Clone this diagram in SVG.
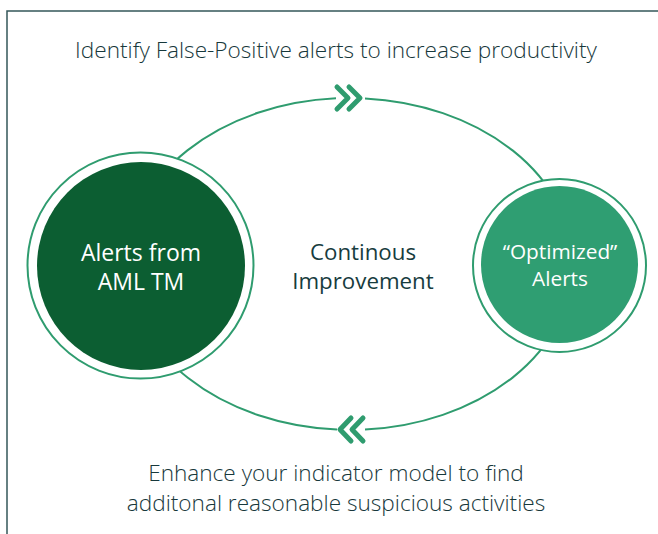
<svg xmlns="http://www.w3.org/2000/svg" width="658" height="534" viewBox="0 0 658 534">
  <defs>
    <style>
      .frame { fill: none; stroke: #34575a; stroke-width: 1.5; }
      .loop { fill: none; stroke: #2f9c6f; stroke-width: 2; }
      .chev { fill: none; stroke: #2f9c6f; stroke-width: 5; stroke-linecap: round; stroke-linejoin: round; }
      .ring { fill: #ffffff; stroke: #2f9c6f; stroke-width: 2; }
      .caption { font-family: "Open Sans", "Liberation Sans", sans-serif; font-size: 22.6px; font-weight: 300; fill: #17383b; text-anchor: middle; }
      .label { font-family: "Open Sans", "Liberation Sans", sans-serif; fill: #ffffff; text-anchor: middle; }
      .center { font-family: "Open Sans", "Liberation Sans", sans-serif; font-size: 22.3px; font-weight: 500; fill: #173c3e; text-anchor: middle; }
    </style>
  </defs>

  <rect width="658" height="534" fill="#ffffff"/>

  <!-- outer frame: top and left edges -->
  <path class="frame" d="M 658 11 L 7 11 L 7 534"/>

  <!-- captions -->
  <text class="caption" x="336" y="58">Identify False-Positive alerts to increase productivity</text>
  <text class="caption" x="336" y="481">Enhance your indicator model to find</text>
  <text class="caption" x="336" y="511">additonal reasonable suspicious activities</text>

  <!-- loop connectors -->
  <g id="connectors">
    <path class="loop" d="M 127 264 A 223 166 0 0 1 336 98.3 M 365 98.4 A 223 166 0 0 1 573 264"/>
    <path class="loop" d="M 573 264 A 223 166 0 0 1 365 429.6 M 337 429.6 A 223 166 0 0 1 127 264"/>
    <path class="chev" d="M 337 87 L 348 98 L 337 109 M 349 87 L 360 98 L 349 109"/>
    <path class="chev" d="M 351 418 L 340 429.5 L 351 441 M 363 418 L 352 429.5 L 363 441"/>
  </g>

  <g id="node-alerts">
    <circle class="ring" cx="140.5" cy="265.5" r="113"/>
    <circle cx="141" cy="266" r="104" fill="#0c5e32"/>
    <text class="label" x="141" y="261" font-size="23">Alerts from</text>
    <text class="label" x="141" y="290" font-size="23">AML TM</text>
  </g>

  <g id="node-improvement">
    <text class="center" x="363" y="260">Continous</text>
    <text class="center" x="363" y="289">Improvement</text>
  </g>

  <g id="node-optimized">
    <circle class="ring" cx="559.5" cy="265.5" r="86.5"/>
    <circle cx="559.5" cy="264.5" r="78.5" fill="#2f9e72"/>
    <text class="label" x="560" y="259" font-size="20.8">“Optimized”</text>
    <text class="label" x="560" y="286" font-size="20.8">Alerts</text>
  </g>
</svg>
